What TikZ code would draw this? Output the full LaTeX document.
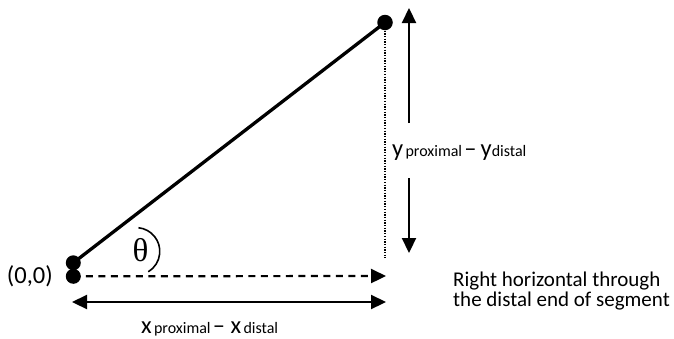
\documentclass[tikz,border=0pt]{standalone}
\usepackage{fontspec}
\setmainfont{Carlito}
\newfontfamily\serifgreek{Liberation Serif}
\usetikzlibrary{arrows.meta}
\newcommand{\LgF}{\fontsize{24.5}{29}\selectfont}
\newcommand{\SmF}{\fontsize{16}{20}\selectfont}
\newcommand{\NoteF}{\fontsize{21}{23}\selectfont}
\begin{document}
\begin{tikzpicture}[x=1pt,y=-1pt,
  dotnode/.style={circle,fill=black,inner sep=0pt,minimum size=15.5pt},
  segline/.style={line width=3.3pt},
  arr/.style={line width=2.2pt,-{Triangle[length=15pt,width=14pt]}},
  dblarr/.style={line width=2.2pt,{Triangle[length=15pt,width=14pt]}-{Triangle[length=15pt,width=14pt]}},
  dashline/.style={line width=2.2pt,dash pattern=on 7pt off 5.5pt,-{Triangle[length=15pt,width=14pt]}},
  dotline/.style={line width=1.5pt,dash pattern=on 1.3pt off 1.4pt},
  lbl/.style={inner sep=0pt,text=black}
]
\useasboundingbox (0,0) rectangle (674,338);
% dots
\node[dotnode] (top) at (385,22.5) {};
\node[dotnode,minimum size=15pt] (o1) at (73.3,262.8) {};
\node[dotnode,minimum size=15pt] (o2) at (73.3,276.3) {};
% segment
\draw[segline] (o1.center) -- (top.center);
% dotted vertical through distal end
\coordinate (dotend) at (385,258);
\draw[dotline] (top.center) -- (dotend);
% dashed horizontal
\coordinate (dashend) at (386,276);
\draw[dashline] (o2.center) -- (dashend);
% x double arrow
\coordinate (xl) at (72,302);
\coordinate (xr) at (386,302);
\draw[dblarr] (xl) -- (xr);
% y arrow (interrupted by label)
\coordinate (vt) at (409,8);
\coordinate (va) at (409,123);
\coordinate (vb) at (409,178);
\coordinate (vbot) at (409,253);
\draw[arr] (va) -- (vt);
\draw[arr] (vb) -- (vbot);
% angle arc
\coordinate (arcc) at (136,251.4);
\draw[line width=1.6pt] (arcc) ++(-84:23.8) arc[start angle=-84,end angle=59,radius=23.8];
% labels
\node[lbl] (theta) at (140.5,250) {\serifgreek\fontsize{33}{33}\selectfont θ};
\node[lbl,anchor=base east] (orig) at (53,283) {\LgF (0,0)};
\node[lbl,anchor=base west] (ylab) at (392,156) {{\LgF y} {\SmF proximal} {\LgF –\,y}{\SmF distal}};
\node[lbl,anchor=base west] (xlab) at (141,333) {{\LgF x} {\SmF proximal} {\LgF – x} {\SmF distal}};
\node[lbl,anchor=base west,align=left] (note) at (453,306) {\NoteF Right horizontal through\\\NoteF the distal end of segment};
\end{tikzpicture}
\end{document}
